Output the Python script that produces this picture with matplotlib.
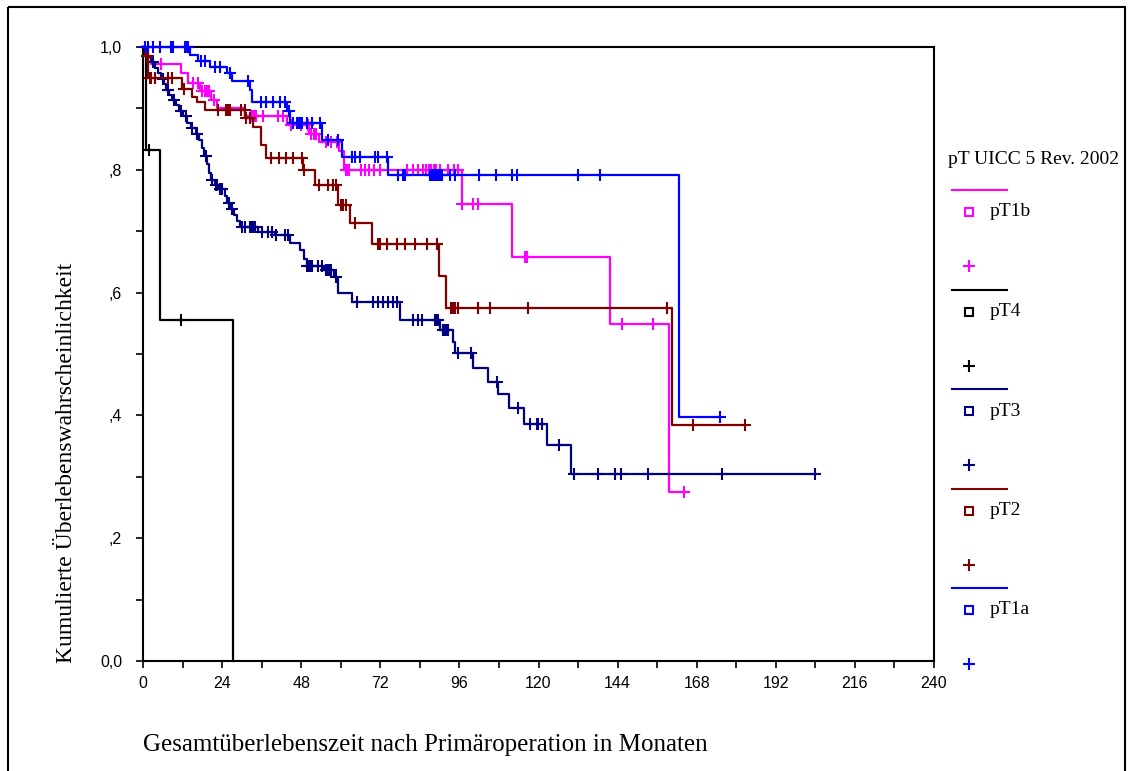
import numpy as np
import matplotlib
matplotlib.use("Agg")
import matplotlib.pyplot as plt
from matplotlib.lines import Line2D
from matplotlib.patches import Rectangle

# Kaplan-Meier Kurven nach pT-Stadium (UICC 5, Rev. 2002)
groups = ["pT1b", "pT4", "pT3", "pT2", "pT1a"]
colors = ["#FF00FF", "#000000", "#000080", "#800000", "#0000FF"]

# pT1b
t_pt1b = [0.8, 2.5, 11.6, 13.7, 17.2, 20.7, 22.5, 31.0, 43.8, 50.5, 53.5, 59.5,
          61.0, 96.7, 111.9, 141.7, 159.7]
s_pt1b = [0.985, 0.972, 0.957, 0.942, 0.928, 0.913, 0.900, 0.887, 0.873, 0.858,
          0.845, 0.830, 0.800, 0.745, 0.658, 0.549, 0.276]
c_pt1b = [5.6, 15.2, 16.7, 18.0, 18.7, 19.3, 20.0, 21.5, 32.8, 33.3, 33.8, 34.3,
          36.5, 41.0, 42.5, 45.0, 48.0, 50.0, 51.0, 51.8, 52.5, 55.5, 57.0, 59.0,
          61.5, 62.0, 62.5, 66.0, 67.5, 68.5, 70.0, 72.0, 80.0, 82.0, 83.5, 85.0,
          86.0, 86.8, 87.5, 88.3, 89.0, 90.0, 92.5, 94.5, 95.5, 96.7, 100.2, 101.7,
          115.9, 116.4, 145.2, 154.6, 164.1]

# pT4
t_pt4 = [1.0, 5.2, 27.4]
s_pt4 = [0.833, 0.556, 0.0]
c_pt4 = [1.9, 11.4]

# pT3
t_pt3 = [0.5, 1.5, 2.5, 3.5, 4.5, 5.5, 6.3, 7.0, 8.0, 8.8, 10.0, 11.0, 12.0, 13.5,
         14.5, 16.0, 17.0, 17.8, 18.5, 19.3, 20.0, 20.6, 21.7, 23.0, 25.0, 25.6,
         26.5, 27.5, 28.5, 29.5, 35.0, 40.0, 44.5, 47.5, 49.0, 49.8, 55.0, 58.0,
         59.3, 63.3, 78.0, 90.1, 94.1, 94.7, 100.0, 104.8, 107.8, 111.1, 115.6,
         122.5, 129.8]
s_pt3 = [0.990, 0.983, 0.975, 0.965, 0.957, 0.948, 0.940, 0.930, 0.922, 0.914,
         0.906, 0.896, 0.887, 0.877, 0.868, 0.858, 0.848, 0.835, 0.822, 0.810,
         0.795, 0.783, 0.776, 0.768, 0.757, 0.746, 0.736, 0.727, 0.717, 0.707,
         0.699, 0.694, 0.680, 0.669, 0.655, 0.643, 0.636, 0.626, 0.600, 0.585,
         0.556, 0.539, 0.520, 0.501, 0.477, 0.455, 0.435, 0.412, 0.386, 0.351,
         0.304]
c_pt3 = [3.0, 6.0, 7.5, 9.5, 11.5, 13.0, 15.0, 16.5, 19.0, 21.0, 22.0, 22.5, 23.5,
         24.0, 26.0, 27.0, 30.0, 31.0, 32.5, 33.0, 33.5, 34.0, 36.0, 38.0, 39.0,
         40.5, 43.0, 44.0, 49.8, 50.3, 50.8, 51.3, 53.0, 54.2, 55.5, 56.0, 56.5,
         57.0, 58.5, 64.8, 69.9, 71.4, 72.9, 74.4, 75.9, 77.0, 82.0, 83.5, 84.6,
         88.6, 89.1, 89.6, 91.1, 91.6, 92.1, 92.6, 95.7, 99.5, 107.3, 113.9, 117.4,
         119.4, 119.9, 121.0, 126.2, 130.8, 138.1, 143.2, 144.9, 153.3, 175.6,
         203.9]

# pT2
t_pt2 = [0.5, 1.6, 11.7, 14.8, 16.5, 18.8, 31.0, 33.5, 35.9, 37.4, 48.6, 52.2,
         59.3, 62.8, 69.4, 89.8, 91.8, 160.4]
s_pt2 = [0.985, 0.949, 0.932, 0.919, 0.910, 0.898, 0.884, 0.870, 0.840, 0.819,
         0.800, 0.775, 0.743, 0.713, 0.679, 0.627, 0.575, 0.384]
c_pt2 = [1.2, 1.5, 2.0, 2.5, 3.6, 7.7, 8.7, 12.5, 22.8, 25.3, 25.8, 26.3, 29.8,
         30.8, 31.3, 32.5, 38.9, 41.2, 43.3, 45.4, 48.1, 49.0, 53.5, 56.0, 57.5,
         58.5, 60.0, 60.8, 61.5, 64.3, 71.4, 71.9, 73.9, 77.0, 79.5, 82.5, 86.1,
         89.3, 93.6, 94.2, 94.7, 95.7, 101.5, 105.3, 116.7, 158.9, 166.8, 182.6]

# pT1a
t_pt1a = [14.2, 16.7, 20.2, 25.5, 27.0, 32.5, 33.2, 43.6, 44.6, 54.2, 60.3, 74.4,
          162.7]
s_pt1a = [0.987, 0.977, 0.968, 0.957, 0.944, 0.930, 0.911, 0.895, 0.876, 0.849,
          0.821, 0.792, 0.397]
c_pt1a = [0.5, 1.5, 3.0, 5.2, 8.5, 9.0, 12.6, 13.2, 13.6, 17.7, 18.7, 21.7, 23.3,
          26.3, 32.0, 35.9, 37.4, 39.4, 41.5, 43.0, 44.2, 45.5, 46.7, 47.2, 47.7,
          48.2, 49.8, 51.3, 53.7, 56.0, 59.2, 63.3, 64.3, 65.8, 70.4, 71.3, 73.9,
          77.4, 78.9, 79.5, 87.0, 87.5, 88.0, 88.5, 89.0, 89.5, 90.0, 90.7, 93.0,
          94.7, 102.0, 107.0, 112.0, 113.5, 132.0, 138.7, 175.0]

events = [(t_pt1b, s_pt1b, c_pt1b), (t_pt4, s_pt4, c_pt4), (t_pt3, s_pt3, c_pt3),
          (t_pt2, s_pt2, c_pt2), (t_pt1a, s_pt1a, c_pt1a)]

x_ticks = np.arange(0, 241, 24)
y_ticks = [0.0, 0.2, 0.4, 0.6, 0.8, 1.0]
y_tick_labels = ["0,0", ",2", ",4", ",6", ",8", "1,0"]

W, H = 1131, 771
fig = plt.figure(figsize=(W / 100, H / 100), dpi=100)
ax = fig.add_axes([143 / W, 1 - 661 / H, (934 - 143) / W, (661 - 47) / H])

tick_font = ["Liberation Sans", "DejaVu Sans"]
serif_font = ["Liberation Serif", "DejaVu Serif"]

for (t, s, c), col in zip(events, colors):
    t = np.array([0.0] + list(t))
    s = np.array([1.0] + list(s))
    c = np.array(c)
    # letzte horizontale Strecke bis zur letzten Zensur verlaengern
    t_end = max(t[-1], c.max())
    tt = np.append(t, t_end)
    ss = np.append(s, s[-1])
    ax.step(tt, ss, where="post", color=col, lw=1.6, clip_on=False, zorder=3)
    idx = np.searchsorted(t, c, side="right") - 1
    ax.plot(c, s[idx], "+", color=col, ms=8, mew=1.5, ls="none",
            clip_on=False, zorder=3)

ax.set_xlim(0, 240)
ax.set_ylim(0, 1.0)
ax.set_xticks(x_ticks)
ax.set_xticks(np.arange(12, 240, 24), minor=True)
ax.set_yticks(y_ticks)
ax.set_yticklabels(y_tick_labels)
ax.set_yticks(np.arange(0.1, 1.0, 0.2), minor=True)
ax.tick_params(which="both", direction="out", length=5, width=1.2, colors="black")
ax.tick_params(axis="x", pad=6)
ax.tick_params(axis="y", pad=10)
for lab in ax.get_xticklabels() + ax.get_yticklabels():
    lab.set_family(tick_font)
    lab.set_fontsize(11.5)
for sp in ax.spines.values():
    sp.set_linewidth(1.5)

fig.text(143 / W, 1 - 745 / H, "Gesamtüberlebenszeit nach Primäroperation in Monaten",
         family=serif_font, fontsize=18, ha="left", va="center")
fig.text(67 / W, 1 - 463 / H, "Kumulierte Überlebenswahrscheinlichkeit",
         family=serif_font, fontsize=17, rotation=90, ha="center", va="center")

# Legende von Hand aufbauen (Pixelkoordinaten)
lg = fig.add_axes([0, 0, 1, 1], zorder=-1)
lg.set_xlim(0, W)
lg.set_ylim(H, 0)
lg.axis("off")
lg.text(948, 160, "pT UICC 5 Rev. 2002", family=serif_font, fontsize=14,
        ha="left", va="center")
for i, (name, col) in enumerate(zip(groups, colors)):
    y0 = 190 + i * 99.5
    lg.add_line(Line2D([952, 1007], [y0, y0], color=col, lw=1.5))
    lg.plot(969, y0 + 22, "s", mfc="none", mec=col, ms=6, mew=1.5)
    lg.text(990, y0 + 22, name, family=serif_font, fontsize=14, ha="left",
            va="center")
    lg.plot(969, y0 + 76, "+", color=col, ms=9, mew=1.5)

# Rahmen um die ganze Abbildung (unten offen)
lg.add_patch(Rectangle((8, 7), W - 14, H + 10, fill=False, lw=1.5,
                       edgecolor="black", clip_on=False))

fig.savefig("out.png", dpi=100)
